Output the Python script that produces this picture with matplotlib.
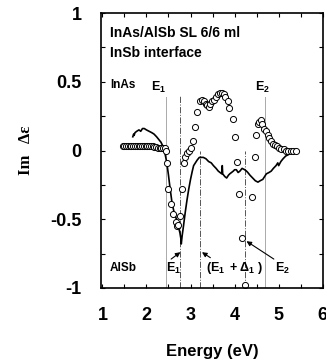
import matplotlib
matplotlib.use("Agg")
import matplotlib.pyplot as plt

plt.rcParams['font.family'] = 'Liberation Sans'
plt.rcParams['font.weight'] = 'bold'
plt.rcParams['mathtext.fontset'] = 'custom'
plt.rcParams['mathtext.rm'] = 'Liberation Sans:bold'
plt.rcParams['mathtext.bf'] = 'Liberation Sans:bold'
plt.rcParams['mathtext.it'] = 'Liberation Sans:bold'

# open circles (measured)
circ_x = [1.46, 1.50, 1.54, 1.58, 1.62, 1.66, 1.70, 1.74, 1.78, 1.82, 1.86, 1.90,
          1.94, 1.98, 2.02, 2.06, 2.10, 2.14, 2.18, 2.22, 2.26, 2.30, 2.34, 2.38,
          2.42, 2.45, 2.47, 2.50, 2.55, 2.61, 2.66, 2.69, 2.72, 2.76, 2.80, 2.85,
          2.88, 2.91, 2.96, 3.00, 3.05, 3.11, 3.15, 3.21, 3.25, 3.30, 3.34, 3.37,
          3.41, 3.45, 3.49, 3.53, 3.58, 3.62, 3.67, 3.71, 3.75, 3.79, 3.84, 3.88,
          3.96, 4.01, 4.05, 4.11, 4.16, 4.23, 4.40, 4.46, 4.49, 4.52, 4.55, 4.59,
          4.63, 4.67, 4.71, 4.75, 4.79, 4.83, 4.87, 4.91, 4.96, 5.01, 5.06, 5.11,
          5.16, 5.21, 5.27, 5.33, 5.39]
circ_y = [0.03, 0.03, 0.03, 0.03, 0.03, 0.03, 0.03, 0.03, 0.03, 0.03, 0.03, 0.03,
          0.03, 0.03, 0.03, 0.03, 0.03, 0.03, 0.025, 0.025, 0.02, 0.015, 0.015, 0.02,
          0.02, 0.0, -0.09, -0.28, -0.39, -0.46, -0.52, -0.55, -0.54, -0.48, -0.28, -0.09,
          -0.05, -0.02, 0.0, 0.02, 0.07, 0.17, 0.28, 0.36, 0.37, 0.36, 0.34, 0.33,
          0.32, 0.34, 0.36, 0.37, 0.39, 0.41, 0.42, 0.42, 0.41, 0.39, 0.36, 0.31,
          0.23, 0.10, -0.08, -0.32, -0.64, -0.98, -0.34, -0.05, 0.11, 0.19, 0.21, 0.22,
          0.19, 0.16, 0.14, 0.11, 0.09, 0.07, 0.05, 0.04, 0.03, 0.02, 0.01, 0.01,
          0.0, 0.0, 0.0, 0.0, -0.005]

# solid line (calculated)
line_x = [1.69, 1.71, 1.72, 1.74, 1.78, 1.83, 1.87, 1.91, 1.95, 2.00, 2.06, 2.12,
          2.17, 2.23, 2.28, 2.33, 2.36, 2.40, 2.42, 2.45, 2.47, 2.50, 2.53, 2.58,
          2.62, 2.66, 2.70, 2.73, 2.76, 2.78, 2.79, 2.81, 2.84, 2.88, 2.92, 2.96,
          3.00, 3.04, 3.07, 3.11, 3.15, 3.20, 3.25, 3.29, 3.35, 3.41, 3.47, 3.52,
          3.58, 3.63, 3.67, 3.71, 3.72, 3.73, 3.78, 3.82, 3.86, 3.89, 3.93, 3.97,
          4.00, 4.04, 4.08, 4.12, 4.17, 4.23, 4.27, 4.30, 4.35, 4.41, 4.47, 4.53,
          4.58, 4.64, 4.68, 4.72, 4.78, 4.83, 4.88, 4.94, 4.98, 5.00, 5.05, 5.10,
          5.16, 5.22, 5.28, 5.33, 5.39]
line_y = [0.10, 0.12, 0.11, 0.13, 0.14, 0.15, 0.14, 0.16, 0.16, 0.15, 0.14, 0.13,
          0.12, 0.10, 0.08, 0.06, 0.04, 0.01, -0.02, -0.07, -0.11, -0.18, -0.26, -0.38,
          -0.44, -0.48, -0.52, -0.56, -0.60, -0.64, -0.68, -0.62, -0.55, -0.45, -0.36, -0.28,
          -0.21, -0.15, -0.11, -0.09, -0.07, -0.05, -0.05, -0.05, -0.06, -0.08, -0.09, -0.11,
          -0.13, -0.15, -0.16, -0.17, -0.11, -0.17, -0.19, -0.20, -0.18, -0.17, -0.16, -0.15,
          -0.14, -0.14, -0.16, -0.15, -0.13, -0.14, -0.15, -0.16, -0.18, -0.20, -0.22, -0.23,
          -0.22, -0.21, -0.19, -0.17, -0.16, -0.15, -0.13, -0.11, -0.09, -0.11, -0.08, -0.06,
          -0.04, -0.03, -0.02, 0.0, 0.01]

# transition energies: position, top of line, style
trans_x = [2.45, 2.75, 3.21, 4.23, 4.69]
trans_top = [0.39, 0.40, 0.0, 0.0, 0.39]
trans_style = ['-', '-.', '-.', '-.', '-']

xticks = [1, 2, 3, 4, 5, 6]
yticks = [-1, -0.5, 0, 0.5, 1]
ytick_labels = ['-1', '-0.5', '0', '0.5', '1']

fig = plt.figure(figsize=(3.26, 3.64), dpi=100)
ax = fig.add_axes([0.310, 0.209, 0.680, 0.755])

for xv, top, ls in zip(trans_x, trans_top, trans_style):
    col = '#aaaaaa' if ls == '-' else '#555555'
    ax.plot([xv, xv], [-1, top], ls=ls, color=col, lw=0.7)

ax.plot(line_x, line_y, color='black', lw=1.2)
ax.plot(circ_x, circ_y, 'o', mfc='white', mec='black', ms=4.4, mew=0.7)

ax.set_xlim(0.97, 6.0)
ax.set_ylim(-1, 1)
ax.set_xticks(xticks)
ax.set_xticks([1.5, 2.5, 3.5, 4.5, 5.5], minor=True)
ax.set_yticks(yticks)
ax.set_yticklabels(ytick_labels)
ax.set_yticks([-0.75, -0.25, 0.25, 0.75], minor=True)
ax.tick_params(which='both', direction='in', top=True, right=True, length=3, width=0.8)
ax.tick_params(axis='x', labelsize=13, pad=14)
ax.tick_params(axis='y', labelsize=13, pad=14)
for sp in ax.spines.values():
    sp.set_linewidth(1.2)

ax.set_xlabel('Energy (eV)', fontsize=12, fontweight='bold', labelpad=14)
ax.set_ylabel('Im   Δε', fontsize=12, family='Liberation Serif', fontweight='bold', labelpad=12)

ax.text(0.04, 0.927, 'InAs/AlSb SL 6/6 ml', transform=ax.transAxes, fontsize=10, va='center')
ax.text(0.04, 0.855, 'InSb interface', transform=ax.transAxes, fontsize=10, va='center')
ax.text(0.04, 0.738, 'InAs', transform=ax.transAxes, fontsize=8.5, va='center')
ax.text(0.04, 0.073, 'AlSb', transform=ax.transAxes, fontsize=8.5, va='center')

ax.text(2.27, 0.46, r'$\mathrm{E_1}$', fontsize=9, ha='center', va='center')
ax.text(4.63, 0.46, r'$\mathrm{E_2}$', fontsize=9, ha='center', va='center')
ax.text(2.62, -0.855, r'$\mathrm{E_1}$', fontsize=9, ha='center', va='center')
ax.text(3.99, -0.855, r'$\mathrm{(E_1\ +\Delta_1\ )}$', fontsize=9, ha='center', va='center')
ax.text(5.09, -0.855, r'$\mathrm{E_2}$', fontsize=9, ha='center', va='center')

arr = dict(arrowstyle='-|>', color='black', lw=0.8, mutation_scale=7, shrinkA=0, shrinkB=0)
ax.annotate('', xy=(2.77, -0.74), xytext=(2.56, -0.79), arrowprops=arr)
ax.annotate('', xy=(3.26, -0.74), xytext=(3.45, -0.78), arrowprops=arr)
ax.annotate('', xy=(4.27, -0.66), xytext=(4.89, -0.79), arrowprops=arr)

fig.savefig('out.png', dpi=100)
